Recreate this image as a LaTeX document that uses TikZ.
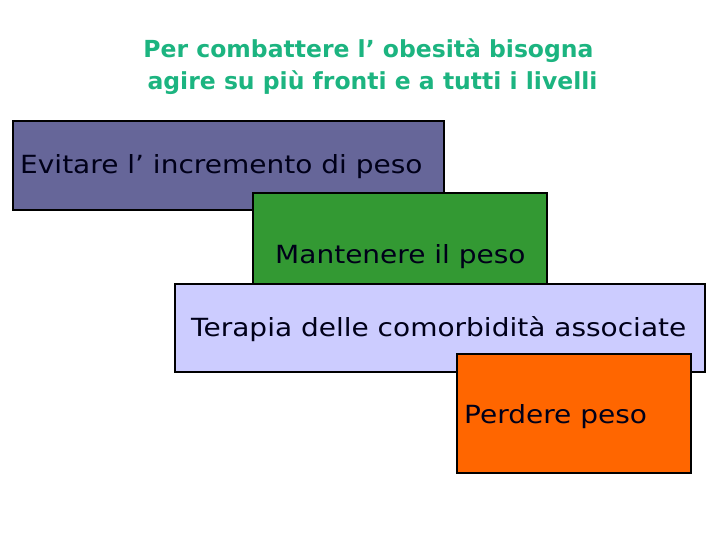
\documentclass[tikz,border=0pt]{standalone}
\usepackage{fontspec}
\setmainfont{DejaVu Sans}
\newfontfamily\boxfont[FakeStretch=1.12]{DejaVu Sans}
\definecolor{titlegreen}{RGB}{28,180,128}
\definecolor{boxpurple}{RGB}{102,102,153}
\definecolor{boxgreen}{RGB}{51,153,51}
\definecolor{boxlav}{RGB}{204,204,255}
\definecolor{boxorange}{RGB}{255,102,0}
\begin{document}
\begin{tikzpicture}[x=1pt,y=1pt,
  box/.style={draw=black, line width=2pt, anchor=north west, inner sep=0pt},
  txt/.style={anchor=west, inner sep=0pt, font=\boxfont\fontsize{25}{29}\selectfont, text=black!90!blue},
  ttl/.style={inner sep=0pt, font=\fontsize{23.5}{28}\selectfont\bfseries, text=titlegreen}]
\useasboundingbox (0,0) rectangle (720,-540);
\node[ttl] (title1) at (368.5,-51) {Per combattere l’ obesità bisogna};
\node[ttl] (title2) at (372.5,-83) {agire su più fronti e a tutti i livelli};
\node[box, fill=boxpurple, minimum width=431pt, minimum height=89pt] (b1) at (12,-120) {};
\node[txt] (t1) at (20,-167) {Evitare l’ incremento di peso};
\node[box, fill=boxgreen, minimum width=294pt, minimum height=95pt] (b2) at (252,-192) {};
\node[txt] (t2) at (275,-256.5) {Mantenere il peso};
\node[box, fill=boxlav, minimum width=530pt, minimum height=88pt] (b3) at (174,-283) {};
\node[txt] (t3) at (191,-329) {Terapia delle comorbidità associate};
\node[box, fill=boxorange, minimum width=234pt, minimum height=119pt] (b4) at (456,-353) {};
\node[txt] (t4) at (464,-417) {Perdere peso};
\end{tikzpicture}
\end{document}
